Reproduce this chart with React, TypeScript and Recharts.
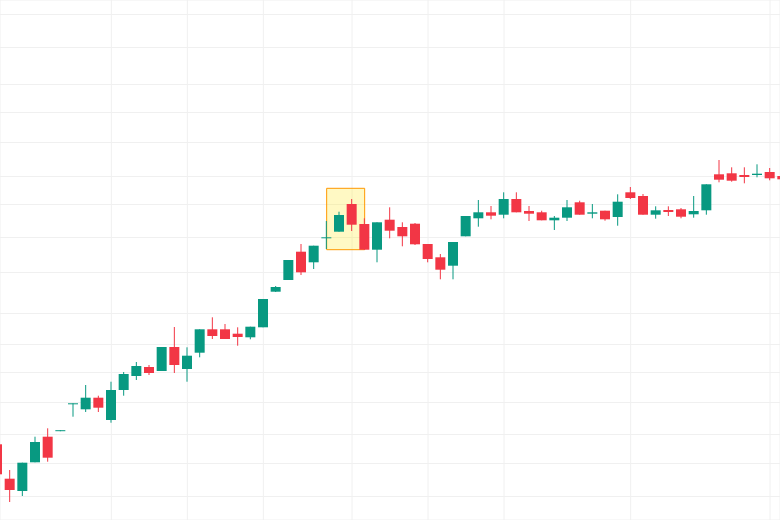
import React from 'react';
import { ComposedChart, Bar, XAxis, YAxis, CartesianGrid, ReferenceArea } from 'recharts';

const GREEN = '#089981';
const RED = '#F23645';

const opens = [107.57,104.13,102.90,105.77,108.33,108.97,111.64,111.07,112.23,110.00,113.00,114.40,115.30,114.90,117.30,115.10,116.73,119.07,119.07,118.63,118.27,119.27,122.83,124.00,126.83,125.77,128.25,128.83,131.60,129.60,127.03,130.03,129.30,129.63,127.60,126.27,125.43,128.37,130.17,130.77,130.53,132.10,130.90,130.77,129.97,130.23,131.77,130.63,130.93,130.30,132.77,132.40,130.53,131.00,131.07,130.57,130.97,134.57,134.67,134.50,134.50,134.80,134.40];
const highs = [107.70,105.00,105.73,108.33,109.17,108.98,111.67,113.50,112.43,113.83,114.80,115.80,115.50,117.30,119.30,117.27,119.07,120.27,119.60,119.27,119.33,122.10,123.40,126.00,127.60,127.43,129.90,130.83,132.10,130.17,129.77,131.27,129.77,129.70,127.60,126.60,127.80,130.40,132.00,131.40,132.77,132.77,131.40,130.93,130.40,132.00,131.93,131.60,130.93,132.57,133.30,132.60,131.37,131.37,131.20,132.40,133.57,136.00,135.27,135.27,135.57,135.20,134.50];
const lows = [104.40,101.80,102.40,105.77,105.83,108.97,110.33,110.80,110.80,109.73,112.43,114.00,114.50,114.90,114.70,113.83,116.27,118.10,118.10,117.43,118.07,119.27,122.80,124.00,124.50,125.10,127.10,128.83,128.90,127.03,125.77,128.17,127.37,127.50,125.77,124.07,124.07,128.37,129.33,130.07,130.17,130.77,129.90,129.97,129.00,129.90,130.53,130.17,129.93,129.43,132.10,130.53,130.13,130.40,130.17,130.23,130.53,133.77,133.83,133.67,134.27,133.97,134.00];
const closes = [104.57,103.00,105.73,107.80,106.23,108.98,111.67,112.23,111.23,113.00,114.60,115.40,114.70,117.30,115.50,116.43,119.07,118.40,118.10,118.30,119.33,122.10,123.30,126.00,124.77,127.43,128.27,130.50,129.53,127.03,129.77,128.93,128.37,127.57,126.10,125.03,127.80,130.40,130.77,130.43,132.10,130.77,130.63,129.97,130.23,131.27,130.53,130.77,130.07,131.83,132.20,130.53,130.97,130.80,130.33,130.90,133.57,134.03,133.93,134.30,134.63,134.17,134.07];

const priceGrid = [150.55,147.25,143.55,140.75,137.75,134.35,131.55,128.25,124.75,120.65,117.55,114.75,111.75,108.55,105.65,102.35];
const timeGrid = [9, 15, 21, 28, 34, 40, 50, 61];

const highlight = { from: 26, to: 29, top: 133.17, bottom: 127.03 };

const data = opens.map((o, i) => ({
  i,
  o,
  h: highs[i],
  l: lows[i],
  c: closes[i],
  range: [lows[i], highs[i]],
}));

function Candle(props: any) {
  const { x, y, width, height, payload } = props;
  if (!payload) return null;
  const { o, h, l, c } = payload;
  const top = Math.min(y, y + height);
  const bot = Math.max(y, y + height);
  const k = (bot - top) / (h - l);
  const yO = top + (h - o) * k;
  const yC = top + (h - c) * k;
  const color = c >= o ? GREEN : RED;
  const cx = x + width / 2;
  const bTop = Math.min(yO, yC);
  const bH = Math.max(1, Math.abs(yO - yC));
  return (
    <g>
      <rect x={cx - 0.5} y={top} width={1} height={Math.max(1, bot - top)} fill={color} />
      <rect x={x} y={bTop} width={width} height={bH} fill={color} />
    </g>
  );
}

export default function App() {
  return (
    <div style={{ position: 'absolute', left: 0, top: 0, background: '#ffffff' }}>
      <ComposedChart width={780} height={520} data={data} margin={{ top: 0, right: 0, bottom: 0, left: 0 }}>
        <CartesianGrid stroke="#f0f0f0" strokeWidth={1} />
        <XAxis
          type="number"
          dataKey="i"
          domain={[0.2105, 61.789]}
          ticks={timeGrid}
          allowDataOverflow
          hide
        />
        <YAxis type="number" domain={[100, 152]} ticks={priceGrid} allowDataOverflow hide />
        <ReferenceArea
          x1={highlight.from}
          x2={highlight.to}
          y1={highlight.bottom}
          y2={highlight.top}
          fill="rgba(255, 235, 59, 0.3)"
          fillOpacity={1}
          stroke="#FF9800"
          strokeWidth={1}
        />
        <Bar dataKey="range" barSize={10} shape={<Candle />} isAnimationActive={false} />
      </ComposedChart>
    </div>
  );
}
